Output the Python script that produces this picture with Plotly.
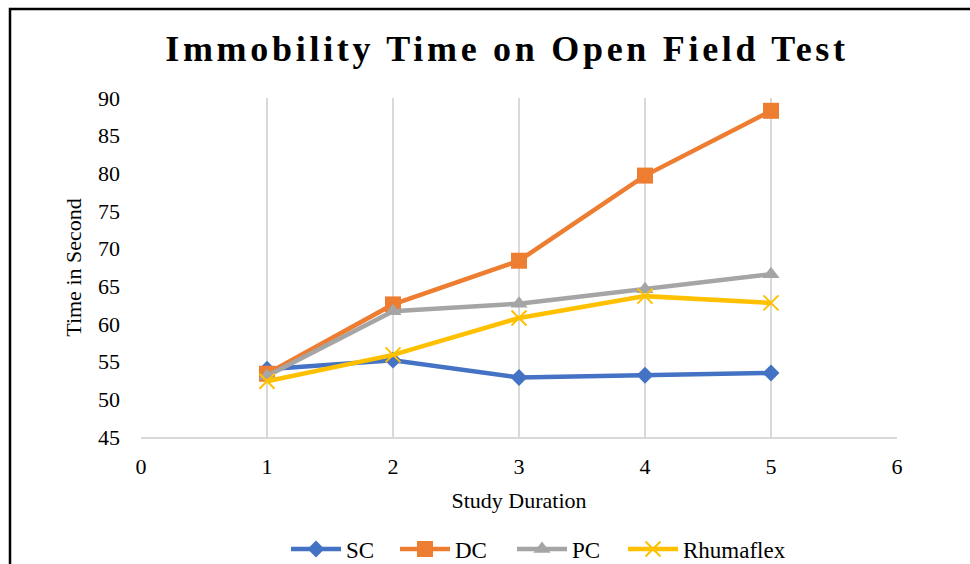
import plotly.graph_objects as go

# Study day index and immobility times (seconds) per group
days = [1, 2, 3, 4, 5]
sc = [54.0, 55.2, 52.9, 53.2, 53.5]
dc = [53.4, 62.6, 68.4, 79.7, 88.3]
pc = [53.1, 61.7, 62.7, 64.6, 66.6]
rhumaflex = [52.4, 55.9, 60.8, 63.7, 62.8]

series = [
    ("SC", sc, "#4472C4", dict(symbol="diamond", size=13)),
    ("DC", dc, "#ED7D31", dict(symbol="square", size=16)),
    ("PC", pc, "#A5A5A5", dict(symbol="triangle-up", size=15)),
    ("Rhumaflex", rhumaflex, "#FFC000", dict(symbol="x-thin", size=15, line=dict(width=2, color="#FFC000"))),
]

# left edge (px) of each legend entry along the bottom row
legend_left = [286, 395, 512, 623]
legend_ids = ["legend", "legend2", "legend3", "legend4"]

FONT = "Liberation Serif, Times New Roman, serif"
W, H = 970, 564
L, R, T, B = 141, 897, 98, 437

fig = go.Figure()
for (name, vals, color, marker), lid in zip(series, legend_ids):
    fig.add_trace(go.Scatter(
        x=days, y=vals, name=name, mode="lines+markers",
        line=dict(color=color, width=4.5),
        marker=dict(color=color, **marker),
        legend=lid,
    ))

legend_layout = {}
for lid, left in zip(legend_ids, legend_left):
    legend_layout[lid] = dict(
        orientation="h", xref="container", yref="container",
        x=left / W, xanchor="left", y=1 - 549 / H, yanchor="middle",
        font=dict(size=23), itemwidth=50, bgcolor="rgba(0,0,0,0)",
    )

fig.update_layout(
    width=W, height=H, autosize=False,
    margin=dict(l=L, r=W - R, t=T, b=H - B, pad=0),
    paper_bgcolor="white", plot_bgcolor="white",
    font=dict(family=FONT, size=22, color="black"),
    title=dict(
        text="<b>Immobility Time on Open Field Test</b>",
        font=dict(family=FONT, size=36, color="black"),
        x=507 / W, xanchor="center", xref="container",
        y=1 - 48 / H, yanchor="middle", yref="container",
    ),
    xaxis=dict(
        range=[0, 6], dtick=1, tick0=0,
        showgrid=True, gridcolor="#D9D9D9", gridwidth=2,
        showline=True, linecolor="#D9D9D9", linewidth=2,
        zeroline=False, ticks="", ticklabelstandoff=9,
        title=dict(text="Study Duration", font=dict(size=22), standoff=14),
    ),
    yaxis=dict(
        range=[45, 90], dtick=5, tick0=45,
        showgrid=False, showline=False, zeroline=False, ticks="",
        ticklabelstandoff=20,
        title=dict(text="Time in Second", font=dict(size=22), standoff=10),
    ),
    showlegend=True,
    **legend_layout,
)

# Outer chart frame (continues past the right and bottom edges)
px_to_x = lambda p: (p - L) / (R - L)
px_to_y = lambda p: (B - p) / (B - T)
fig.add_shape(
    type="rect", xref="paper", yref="paper",
    x0=px_to_x(10), x1=px_to_x(1010), y0=px_to_y(620), y1=px_to_y(9),
    line=dict(color="black", width=2.5), fillcolor="rgba(0,0,0,0)", layer="above",
)

post = "document.querySelectorAll('.gtitle').forEach(function(t){t.style.letterSpacing='3.7px';});"
fig.write_html("out.html", post_script=post)
